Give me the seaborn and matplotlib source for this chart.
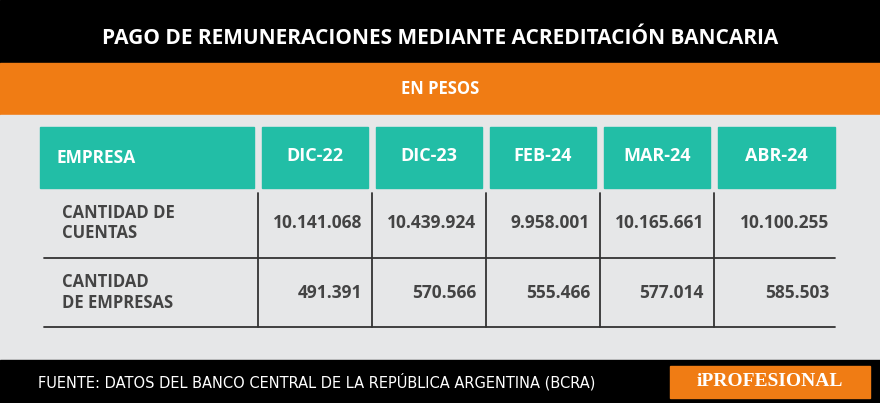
import matplotlib
matplotlib.use("Agg")
import matplotlib.pyplot as plt
import seaborn as sns
from matplotlib.patches import Rectangle

sns.set_theme(style="white")

title = "PAGO DE REMUNERACIONES MEDIANTE ACREDITACIÓN BANCARIA"
subtitle = "EN PESOS"
first_header = "EMPRESA"
periods = ["DIC-22", "DIC-23", "FEB-24", "MAR-24", "ABR-24"]
row_labels = ["CANTIDAD DE\nCUENTAS", "CANTIDAD\nDE EMPRESAS"]
cuentas = ["10.141.068", "10.439.924", "9.958.001", "10.165.661", "10.100.255"]
empresas = ["491.391", "570.566", "555.466", "577.014", "585.503"]
source = "FUENTE: DATOS DEL BANCO CENTRAL DE LA REPÚBLICA ARGENTINA (BCRA)"
brand = "iPROFESIONAL"

W, H = 880, 403
fig = plt.figure(figsize=(W/100, H/100), dpi=100)
ax = fig.add_axes([0, 0, 1, 1])
ax.set_xlim(0, W); ax.set_ylim(H, 0); ax.axis("off")

TEAL = "#22bea6"; ORANGE = "#f07c14"; GRAY = "#e6e7e8"; DARK = "#444444"
F = "Open Sans"

ax.add_patch(Rectangle((0, 0), W, 63, color="#000000"))
ax.add_patch(Rectangle((0, 63), W, 52, color=ORANGE))
ax.add_patch(Rectangle((0, 115), W, 245, color=GRAY))
ax.add_patch(Rectangle((0, 360), W, 43, color="#000000"))
ax.text(W/2, 38, title, color="white", fontsize=15, fontweight="bold", ha="center", va="center", family=F)
ax.text(W/2, 89, subtitle, color="white", fontsize=12, fontweight="bold", ha="center", va="center", family=F)

# header
ax.add_patch(Rectangle((40, 127), 214, 61, color=TEAL))
ax.text(56, 158, first_header, color="white", fontsize=12.5, fontweight="bold", va="center", family=F)
lefts = [262, 376, 490, 604, 718]
widths = [106, 106, 106, 106, 117]
for l, w, p in zip(lefts, widths, periods):
    ax.add_patch(Rectangle((l, 127), w, 61, color=TEAL))
    ax.text(l + w/2, 156, p, color="white", fontsize=13, fontweight="bold", ha="center", va="center", family=F)

# rows
rows = [cuentas, empresas]
ytop = [188, 258]
ybot = [258, 327]
for i, (lab, vals) in enumerate(zip(row_labels, rows)):
    ymid = (ytop[i] + ybot[i]) / 2
    ax.text(62, ymid, lab, color=DARK, fontsize=12, fontweight="bold", va="center", family=F, linespacing=1.15)
    for l, w, v in zip(lefts, widths, vals):
        ax.text(l + w - 6, ymid, v, color=DARK, fontsize=12.5, fontweight="bold", ha="right", va="center", family=F)
    ax.plot([44, 835], [ybot[i], ybot[i]], color="#333333", lw=1.3)
for x in [258, 372, 486, 600, 714]:
    ax.plot([x, x], [193, 327], color="#333333", lw=1.3)

ax.text(38, 382, source, color="white", fontsize=10.5, va="center", family="DejaVu Sans")
ax.add_patch(Rectangle((670, 366), 200, 32, color=ORANGE))
ax.text(770, 382, brand, color="white", fontsize=14, fontweight="bold", ha="center", va="center", family="Liberation Serif")

fig.savefig("out.png", dpi=100)
